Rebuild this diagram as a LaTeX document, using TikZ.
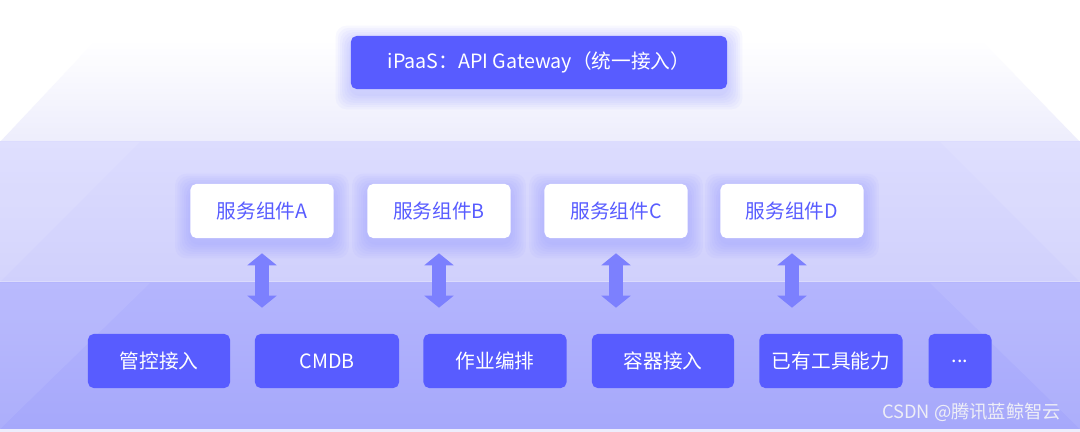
\documentclass[tikz,border=0pt]{standalone}
\usepackage{fontspec}
\setmainfont{Noto Sans CJK SC}
\usetikzlibrary{arrows.meta}
\definecolor{mainblue}{HTML}{585CFF}
\definecolor{arrowblue}{HTML}{7C80FE}
\definecolor{glowc}{HTML}{8589FF}
\definecolor{topB}{HTML}{EDEDFC}
\definecolor{midA}{HTML}{DCDCFE}
\definecolor{midB}{HTML}{D0D0FC}
\definecolor{lowA}{HTML}{B4B5FD}
\definecolor{lowB}{HTML}{A6A8FB}
\definecolor{markc}{HTML}{EEEEF6}
% soft glow round a box: center x, center y, width, height (px)
\newcommand{\glow}[4]{\foreach \g in {1,...,7}{\fill[glowc, opacity=0.055, rounded corners=8] (#1-#3/2-\g*2.2, #2-#4/2-\g*2.2+5) rectangle (#1+#3/2+\g*2.2, #2+#4/2+\g*2.2+5);}}

\begin{document}
\begin{tikzpicture}[x=0.025cm, y=-0.025cm,
    txt/.style={font=\fontsize{14}{16}\selectfont},
    darkbox/.style={txt, rectangle, rounded corners=4pt, fill=mainblue, text=white, minimum height=1.35cm, inner sep=0pt},
    lightbox/.style={txt, rectangle, rounded corners=4pt, fill=white, text=mainblue, minimum width=3.575cm, minimum height=1.35cm, inner sep=0pt},
    biarrow/.style={draw=arrowblue, line width=0.35cm, {Triangle[length=0.3cm, width=0.72cm]}-{Triangle[length=0.3cm, width=0.72cm]}, shorten <=0.375cm, shorten >=0.65cm}]
    \useasboundingbox (0,0) rectangle (1080,432);
    % layers
    \fill[white] (0,0) rectangle (1080,432);
    \shade[top color=white, bottom color=topB] (96,40) -- (981,40) -- (1080,142) -- (0,142) -- cycle;
    \shade[top color=midA, bottom color=midB] (0,142) rectangle (1080,282);
    \fill[white, opacity=0.1] (0,142) -- (140,142) -- (0,282) -- cycle;
    \fill[white, opacity=0.1] (940,142) -- (1080,142) -- (1080,282) -- cycle;
    \fill[white, opacity=0.25] (0,281) rectangle (1080,283);
    \shade[top color=lowA, bottom color=lowB] (0,283) rectangle (1080,429);
    \fill[white, opacity=0.08] (0,283) -- (150,283) -- (0,429) -- cycle;
    \fill[white, opacity=0.08] (930,283) -- (1080,283) -- (1080,429) -- cycle;
    \fill[topB] (0,429) rectangle (1080,432);
    % gateway
    \glow{539}{62.5}{376}{53}
    \node[darkbox, minimum width=9.4cm, minimum height=1.325cm] (gw) at (539,62.5) {iPaaS：API Gateway（统一接入）};
    % service components
    \glow{262}{211}{143}{54}
    \glow{439}{211}{143}{54}
    \glow{616}{211}{143}{54}
    \glow{792}{211}{143}{54}
    \node[lightbox] (svcA) at (262,211) {服务组件A};
    \node[lightbox] (svcB) at (439,211) {服务组件B};
    \node[lightbox] (svcC) at (616,211) {服务组件C};
    \node[lightbox] (svcD) at (792,211) {服务组件D};
    % capabilities
    \node[darkbox, minimum width=3.55cm] (ctl) at (159,361) {管控接入};
    \node[darkbox, minimum width=3.6cm] (cmdb) at (327,361) {CMDB};
    \node[darkbox, minimum width=3.575cm] (job) at (495,361) {作业编排};
    \node[darkbox, minimum width=3.55cm] (ctr) at (663,361) {容器接入};
    \node[darkbox, minimum width=3.575cm] (tool) at (831,361) {已有工具能力};
    \node[darkbox, minimum width=1.575cm] (more) at (960,361) {...};
    % arrows
    \draw[biarrow] (svcA.south) -- (svcA.south |- cmdb.north);
    \draw[biarrow] (svcB.south) -- (svcB.south |- cmdb.north);
    \draw[biarrow] (svcC.south) -- (svcC.south |- cmdb.north);
    \draw[biarrow] (svcD.south) -- (svcD.south |- cmdb.north);
    % mark
    \node[font=\fontsize{13}{15}\selectfont, text=markc, anchor=east] (mark) at (1066,412) {CSDN @腾讯蓝鲸智云};
\end{tikzpicture}
\end{document}
